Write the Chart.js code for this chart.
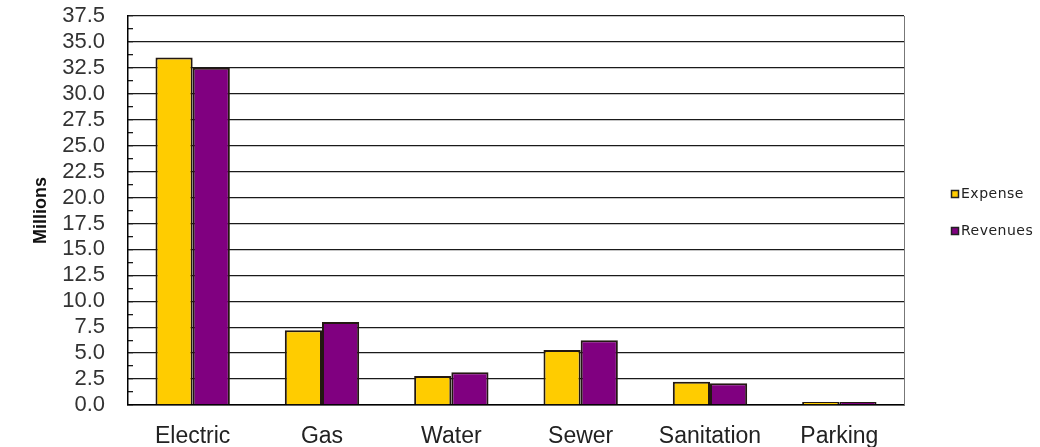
<!DOCTYPE html>
<html>
<head>
<meta charset="utf-8">
<script src="https://cdn.jsdelivr.net/npm/chart.js"></script>
<style>
  body { margin: 0; background: #fff; }
</style>
</head>
<body>
<canvas id="myChart" width="1040" height="447"></canvas>
<script>
// valores (milhoes)
const categories = ['Electric', 'Gas', 'Water', 'Sewer', 'Sanitation', 'Parking']
const expense = [33.5, 7.2, 2.8, 5.3, 2.25, 0.3]
const revenues = [32.5, 8.0, 3.15, 6.25, 2.1, 0.3]
const seriesNames = ['Expense', 'Revenues']
const yMin = 0
const yMax = 37.5
const yStep = 2.5

const ctx = document.getElementById('myChart')
const font = '"Liberation Sans", Arial, sans-serif'

// legenda lateral desenhada a mao (caixa pequena + texto)
const sideLegend = {
  id: 'sideLegend',
  afterDraw(chart) {
    const c = chart.ctx
    c.save()
    chart.data.datasets.forEach((ds, i) => {
      const y = 194 + i * 37
      c.fillStyle = ds.backgroundColor
      c.fillRect(951, y - 4, 8, 8)
      c.strokeStyle = '#222'
      c.lineWidth = 1.5
      c.strokeRect(951.5, y - 3.5, 7, 7)
      c.fillStyle = '#222'
      c.font = '14px "DejaVu Sans", Verdana, sans-serif'
      c.letterSpacing = '0.5px'
      c.textBaseline = 'middle'
      c.fillText(ds.label, 961, y)
    })
    c.restore()
  }
}

const myChart = new Chart(ctx, {
  type: 'bar',
  data: {
    labels: categories,
    datasets: [
      {
        label: seriesNames[0],
        data: expense,
        backgroundColor: '#FFCC00',
        borderColor: '#231812',
        borderWidth: 2,
        categoryPercentage: 0.575,
        barPercentage: 1
      },
      {
        label: seriesNames[1],
        data: revenues,
        backgroundColor: '#800080',
        borderColor: '#231812',
        borderWidth: 2,
        categoryPercentage: 0.575,
        barPercentage: 1
      }
    ]
  },
  options: {
    responsive: false,
    animation: false,
    layout: { padding: { top: 16, right: 136, left: 0, bottom: 0 } },
    plugins: {
      legend: { display: false },
      tooltip: { enabled: false }
    },
    scales: {
      x: {
        afterFit(s) { s.height = 42; s.paddingLeft = 0; s.paddingRight = 0 },
        grid: { display: false },
        border: { color: '#000', width: 1.5 },
        ticks: { padding: 10, color: '#222', font: { family: font, size: 23 } }
      },
      y: {
        min: yMin,
        max: yMax,
        afterFit(s) { s.width = 128; s.paddingTop = 0; s.paddingBottom = 0 },
        ticks: {
          stepSize: yStep / 2,
          autoSkip: false,
          padding: 28,
          color: '#333',
          font: { family: font, size: 22, lineHeight: 1 },
          callback: (v, i) => i % 2 === 0 ? v.toFixed(1) : ''
        },
        grid: {
          color: c => c.index % 2 === 0 ? '#1a1a1a' : 'rgba(0,0,0,0)',
          lineWidth: 1.3,
          tickLength: -5,
          tickColor: '#1a1a1a',
          tickWidth: 1.3
        },
        border: { color: '#000', width: 1.5 },
        title: {
          display: true,
          text: 'Millions',
          color: '#111',
          font: { family: font, size: 18, weight: 'bold' },
          padding: { top: 30, bottom: 0 }
        }
      },
      yR: {
        position: 'right',
        min: yMin,
        max: yMax,
        afterFit(s) { s.width = 0; s.paddingTop = 0; s.paddingBottom = 0 },
        ticks: { display: false },
        grid: { display: false },
        border: { display: true, color: '#777', width: 1 }
      }
    }
  },
  plugins: [sideLegend]
})
</script>
</body>
</html>
